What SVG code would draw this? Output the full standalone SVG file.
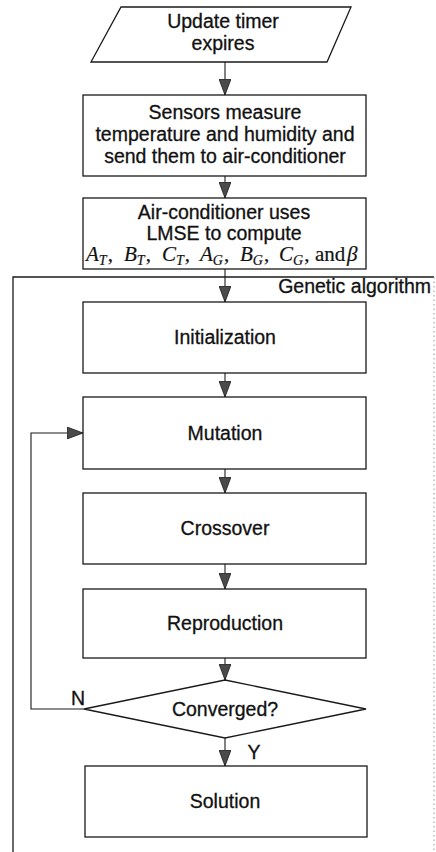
<svg xmlns="http://www.w3.org/2000/svg" width="436" height="852" viewBox="0 0 436 852">
  <style>
    .box { fill: #fff; stroke: #1a1a1a; stroke-width: 1.3; }
    .lbl { font-family: "Liberation Sans", Arial, sans-serif; font-size: 19.5px; fill: #111; stroke: #111; stroke-width: 0.3; text-anchor: middle; }
    .math { font-family: "Liberation Serif", "Times New Roman", serif; font-size: 21px; fill: #111; stroke: #111; stroke-width: 0.2; }
    .it { font-style: italic; }
    .sub { font-style: italic; font-size: 14px; }
    .wire { fill: none; stroke: #1a1a1a; stroke-width: 1.1; }
  </style>
  <defs>
    <marker id="arrow" viewBox="0 0 16 12" refX="16" refY="6" markerWidth="16" markerHeight="12" markerUnits="userSpaceOnUse" orient="auto">
      <path d="M0,0 L16,6 L0,12 z" fill="#4a4a4a" stroke="#1a1a1a" stroke-width="0.8"/>
    </marker>
  </defs>

  <rect width="436" height="852" fill="#fff"/>

  <!-- Genetic algorithm frame -->
  <g id="ga-frame">
    <path d="M13,852 V277 H434" fill="none" stroke="#1a1a1a" stroke-width="1.3"/>
    <path d="M434,277 V852" fill="none" stroke="#9a9a9a" stroke-width="1" stroke-dasharray="1.5 3"/>
    <text class="lbl" x="431" y="293" style="text-anchor:end">Genetic algorithm</text>
  </g>

  <g id="connectors">
    <path class="wire" d="M225,62 V95" marker-end="url(#arrow)"/>
    <path class="wire" d="M225,176 V198" marker-end="url(#arrow)"/>
    <path class="wire" d="M225,269 V302" marker-end="url(#arrow)"/>
    <path class="wire" d="M225,373 V397" marker-end="url(#arrow)"/>
    <path class="wire" d="M225,469 V493" marker-end="url(#arrow)"/>
    <path class="wire" d="M225,564 V589" marker-end="url(#arrow)"/>
    <path class="wire" d="M225,658 V680" marker-end="url(#arrow)"/>
    <path class="wire" d="M225,738 V766" marker-end="url(#arrow)"/>
    <path class="wire" d="M84,709 H31 V433 H83" marker-end="url(#arrow)"/>
    <text class="lbl" x="78" y="705">N</text>
    <text class="lbl" x="254" y="759">Y</text>
  </g>

  <g id="update-timer">
    <polygon class="box" points="121,7 351,7 327,62 91,62"/>
    <text class="lbl" x="223" y="28">Update timer</text>
    <text class="lbl" x="223" y="50">expires</text>
  </g>

  <g id="sensors">
    <rect class="box" x="83" y="95" width="283" height="81"/>
    <text class="lbl" x="225" y="119">Sensors measure</text>
    <text class="lbl" x="225" y="141">temperature and humidity and</text>
    <text class="lbl" x="225" y="163">send them to air-conditioner</text>
  </g>

  <g id="lmse">
    <rect class="box" x="83" y="198" width="283" height="71"/>
    <text class="lbl" x="224" y="219">Air-conditioner uses</text>
    <text class="lbl" x="224" y="240">LMSE to compute</text>
    <text class="math" y="261">
      <tspan x="86" class="it">A</tspan><tspan class="sub" dy="4">T</tspan><tspan dy="-4" dx="1">,</tspan>
      <tspan x="124" class="it">B</tspan><tspan class="sub" dy="4">T</tspan><tspan dy="-4" dx="1">,</tspan>
      <tspan x="162" class="it">C</tspan><tspan class="sub" dy="4">T</tspan><tspan dy="-4" dx="1">,</tspan>
      <tspan x="200" class="it">A</tspan><tspan class="sub" dy="4">G</tspan><tspan dy="-4" dx="1">,</tspan>
      <tspan x="240" class="it">B</tspan><tspan class="sub" dy="4">G</tspan><tspan dy="-4" dx="1">,</tspan>
      <tspan x="279" class="it">C</tspan><tspan class="sub" dy="4">G</tspan><tspan dy="-4" dx="1">,</tspan>
      <tspan x="315">and</tspan><tspan x="347" class="it">β</tspan>
    </text>
  </g>

  <g id="initialization">
    <rect class="box" x="83" y="302" width="283" height="71"/>
    <text class="lbl" x="225" y="344">Initialization</text>
  </g>

  <g id="mutation">
    <rect class="box" x="83" y="397" width="283" height="72"/>
    <text class="lbl" x="225" y="440">Mutation</text>
  </g>

  <g id="crossover">
    <rect class="box" x="83" y="493" width="283" height="71"/>
    <text class="lbl" x="225" y="535">Crossover</text>
  </g>

  <g id="reproduction">
    <rect class="box" x="83" y="589" width="283" height="69"/>
    <text class="lbl" x="225" y="630">Reproduction</text>
  </g>

  <g id="converged">
    <polygon class="box" points="225,680 366,709 225,738 84,709"/>
    <text class="lbl" x="225" y="716">Converged?</text>
  </g>

  <g id="solution">
    <rect class="box" x="85" y="766" width="282" height="71"/>
    <text class="lbl" x="225" y="808">Solution</text>
  </g>
</svg>
